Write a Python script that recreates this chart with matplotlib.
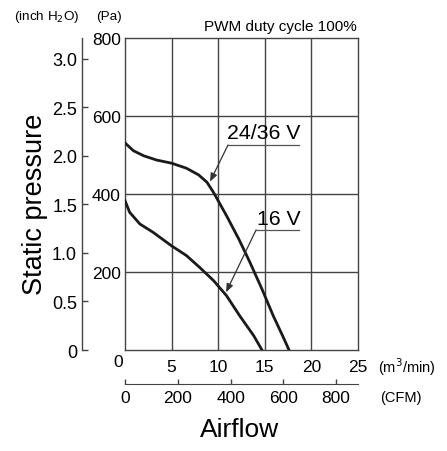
import numpy as np
import matplotlib
matplotlib.use("Agg")
import matplotlib.pyplot as plt
import matplotlib.transforms as mtransforms

# Fan curves, airflow in m3/min and static pressure in Pa
q_hi = [0, 0.9, 2.0, 3.4, 5.0, 6.6, 7.9, 8.8, 9.5, 10.2, 10.9, 12.2, 13.4, 14.7, 15.9, 16.9, 17.6]
p_hi = [531, 511, 498, 487, 479, 466, 449, 430, 404, 374, 344, 285, 225, 156, 88, 37, 0]
q_lo = [0, 0.5, 1.6, 3.0, 5.0, 6.6, 8.0, 9.5, 10.9, 12.3, 13.8, 14.7]
p_lo = [383, 353, 323, 302, 267, 242, 212, 178, 139, 88, 37, 0]

pa_ticks = [0, 200, 400, 600, 800]
pa_labels = ["", "200", "400", "600", "800"]
q_ticks = [0, 5, 10, 15, 20, 25]
inch_ticks = [0, 0.5, 1.0, 1.5, 2.0, 2.5, 3.0]
inch_labels = ["0", "0.5", "1.0", "1.5", "2.0", "2.5", "3.0"]
cfm_ticks = [0, 200, 400, 600, 800]

PA_PER_INCH = 249.09
CFM_PER_M3 = 35.3147

num = ["Liberation Sans", "DejaVu Sans"]
plain = ["Liberation Sans", "DejaVu Sans"]
grid_c = "#444444"
PX = 72 / 100  # points per pixel

fig = plt.figure(figsize=(4.47, 4.52), dpi=100)
L, B, W, H = 125 / 447, 1 - 351 / 452, 233 / 447, 312 / 452
ax = fig.add_axes([L, B, W, H])
ax.set_xlim(0, 25)
ax.set_ylim(0, 800)

for x in q_ticks[1:-1]:
    ax.axvline(x, color=grid_c, lw=1.0, zorder=1)
for y in pa_ticks[1:-1]:
    ax.axhline(y, color=grid_c, lw=1.0, zorder=1)
for s in ax.spines.values():
    s.set_color(grid_c)
    s.set_linewidth(1.0)

ax.plot(q_hi, p_hi, color="#1a1a1a", lw=2.0, zorder=3)
ax.plot(q_lo, p_lo, color="#1a1a1a", lw=2.0, zorder=3)

ax.set_xticks(q_ticks)
ax.set_xticklabels([str(v) for v in q_ticks], family=num, fontsize=12.5)
ax.set_yticks(pa_ticks)
ax.set_yticklabels(pa_labels, family=num, fontsize=12.5)
ax.tick_params(axis="both", length=0)
ax.tick_params(axis="y", pad=4 * PX)
ax.tick_params(axis="x", pad=9 * PX)
# the corner zero sits a bit left and higher
lbl0 = ax.get_xticklabels()[0]
lbl0.set_transform(lbl0.get_transform() + mtransforms.ScaledTranslation(-7 / 100, 5 / 100, fig.dpi_scale_trans))

# inch H2O axis
ax2 = fig.add_axes([L, B, W, H])
ax2.patch.set_visible(False)
ax2.set_xlim(0, 25)
ax2.set_ylim(0, 800 / PA_PER_INCH)
ax2.set_xticks([])
for k in ["top", "right", "bottom"]:
    ax2.spines[k].set_visible(False)
ax2.spines["left"].set_position(("outward", 43 * PX))
ax2.spines["left"].set_color(grid_c)
ax2.spines["left"].set_linewidth(1.0)
ax2.set_yticks(inch_ticks)
ax2.set_yticklabels(inch_labels, family=num, fontsize=13)
ax2.tick_params(axis="y", direction="in", length=6 * PX, width=1.0, color=grid_c, pad=5 * PX)

# CFM axis
sec = ax.secondary_xaxis(-0.109, functions=(lambda q: q * CFM_PER_M3, lambda c: c / CFM_PER_M3))
sec.set_xticks(cfm_ticks)
sec.set_xticklabels([str(v) for v in cfm_ticks], family=num, fontsize=12.5)
sec.tick_params(direction="in", length=5 * PX, width=1.0, color=grid_c, pad=6 * PX)
sec.spines["bottom"].set_color(grid_c)

# unit labels and titles
fig.text(14 / 447, 1 - 17 / 452, "(inch H$_2$O)", family=plain, fontsize=9.7, va="center", ha="left")
fig.text(96 / 447, 1 - 17 / 452, "(Pa)", family=plain, fontsize=9.7, va="center", ha="left")
fig.text(357 / 447, 1 - 27 / 452, "PWM duty cycle 100%", family=plain, fontsize=11, va="center", ha="right")
fig.text(378 / 447, 1 - 367 / 452, "(m$^3$/min)", family=plain, fontsize=10.5, va="center", ha="left")
fig.text(380 / 447, 1 - 398 / 452, "(CFM)", family=plain, fontsize=10.5, va="center", ha="left")
fig.text(240 / 447, 1 - 430 / 452, "Airflow", family=plain, fontsize=19, va="center", ha="center")
fig.text(35 / 447, 1 - 204 / 452, "Static pressure", family=plain, fontsize=19.5, va="center", ha="center", rotation=90)

# curve labels with leader lines
arrow = dict(arrowstyle="-|>,head_length=0.5,head_width=0.2", color="#333333", lw=0.9, shrinkA=0, shrinkB=0)
ax.text(10.95, 534, "24/36 V", family=plain, fontsize=15.3, va="bottom", ha="left")
ax.plot([11.05, 18.67], [525.6, 525.6], color="#555555", lw=0.9)
ax.annotate("", xy=(9.12, 431.5), xytext=(11.05, 525.6), arrowprops=arrow)
ax.text(14.16, 313, "16 V", family=plain, fontsize=15.3, va="bottom", ha="left")
ax.plot([14.06, 18.67], [307.7, 307.7], color="#555555", lw=0.9)
ax.annotate("", xy=(10.84, 148), xytext=(14.06, 307.7), arrowprops=arrow)

fig.savefig("out.png", dpi=100)
